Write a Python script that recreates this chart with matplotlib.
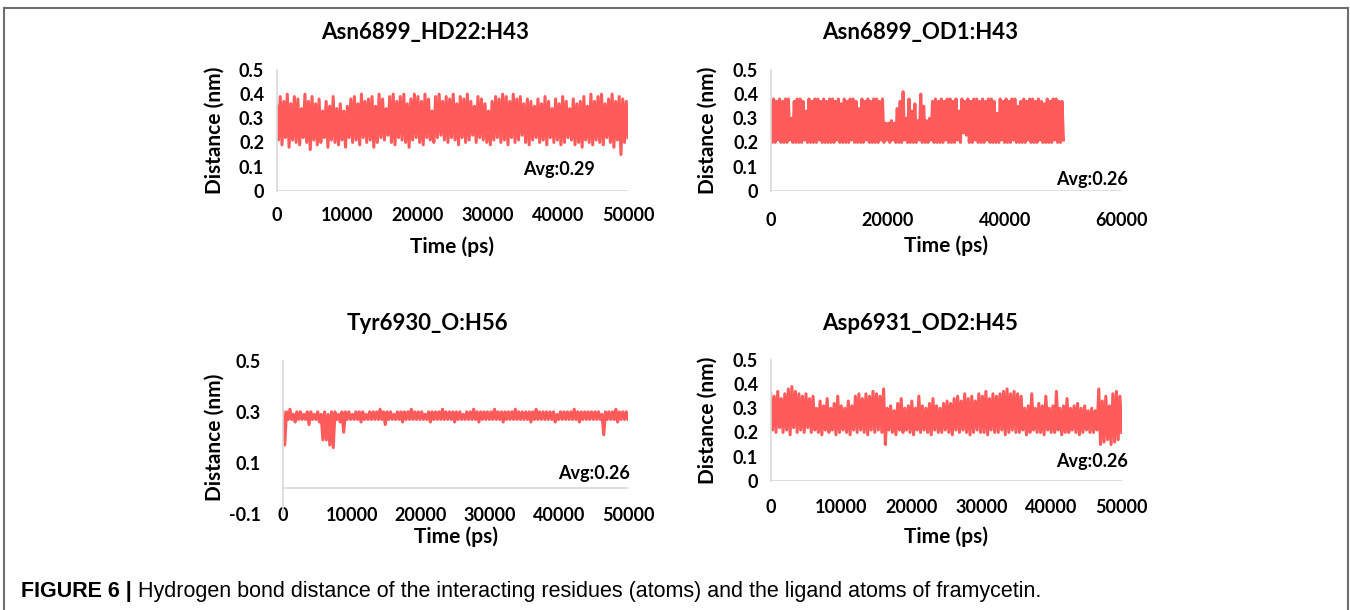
import numpy as np
import matplotlib
matplotlib.use('Agg')
import matplotlib.pyplot as plt
from matplotlib.lines import Line2D

W, H = 1350, 610
RED = '#FF5B5B'
GRID = '#D9D9D9'
FONT = 'Lato'

titles = ['Asn6899_HD22:H43', 'Asn6899_OD1:H43', 'Tyr6930_O:H56', 'Asp6931_OD2:H45']
avgs = ['Avg:0.29', 'Avg:0.26', 'Avg:0.26', 'Avg:0.26']

# upper / lower excursions of each trace, read every ~500 ps
hi1 = [0.35, 0.39, 0.37, 0.40, 0.36, 0.39, 0.38, 0.34, 0.40, 0.37,
       0.39, 0.36, 0.38, 0.33, 0.37, 0.35, 0.39, 0.34, 0.36, 0.33,
       0.35, 0.38, 0.39, 0.36, 0.40, 0.37, 0.38, 0.39, 0.35, 0.40,
       0.38, 0.34, 0.39, 0.40, 0.37, 0.39, 0.40, 0.36, 0.38, 0.40,
       0.39, 0.37, 0.40, 0.38, 0.33, 0.39, 0.40, 0.37, 0.39, 0.38,
       0.40, 0.36, 0.39, 0.38, 0.40, 0.37, 0.35, 0.39, 0.38, 0.36,
       0.33, 0.37, 0.39, 0.38, 0.40, 0.39, 0.37, 0.40, 0.38, 0.39,
       0.36, 0.38, 0.37, 0.35, 0.38, 0.36, 0.39, 0.37, 0.34, 0.38,
       0.36, 0.39, 0.37, 0.34, 0.38, 0.36, 0.37, 0.39, 0.35, 0.40,
       0.37, 0.39, 0.40, 0.36, 0.38, 0.40, 0.37, 0.39, 0.38, 0.37]
lo1 = [0.21, 0.19, 0.22, 0.18, 0.21, 0.20, 0.19, 0.22, 0.20, 0.17,
       0.21, 0.19, 0.20, 0.22, 0.18, 0.21, 0.20, 0.19, 0.21, 0.18,
       0.22, 0.20, 0.21, 0.19, 0.22, 0.20, 0.21, 0.18, 0.20, 0.22,
       0.21, 0.23, 0.20, 0.19, 0.22, 0.21, 0.20, 0.18, 0.21, 0.22,
       0.20, 0.19, 0.22, 0.21, 0.20, 0.22, 0.23, 0.21, 0.20, 0.22,
       0.21, 0.19, 0.22, 0.20, 0.21, 0.23, 0.20, 0.22, 0.21, 0.20,
       0.19, 0.21, 0.22, 0.20, 0.21, 0.19, 0.22, 0.20, 0.21, 0.23,
       0.20, 0.19, 0.21, 0.22, 0.20, 0.21, 0.19, 0.22, 0.20, 0.21,
       0.19, 0.20, 0.22, 0.21, 0.19, 0.20, 0.18, 0.21, 0.20, 0.19,
       0.21, 0.20, 0.19, 0.22, 0.20, 0.18, 0.21, 0.15, 0.20, 0.22]

hi2 = [0.37, 0.38, 0.37, 0.38, 0.37, 0.38, 0.38, 0.30, 0.37, 0.38,
       0.38, 0.37, 0.33, 0.38, 0.37, 0.38, 0.38, 0.37, 0.38, 0.37,
       0.38, 0.38, 0.37, 0.38, 0.36, 0.38, 0.37, 0.38, 0.38, 0.37,
       0.34, 0.38, 0.37, 0.38, 0.37, 0.38, 0.38, 0.37, 0.38, 0.28,
       0.28, 0.29, 0.28, 0.34, 0.37, 0.41, 0.30, 0.38, 0.33, 0.36,
       0.29, 0.40, 0.35, 0.29, 0.30, 0.37, 0.38, 0.37, 0.38, 0.37,
       0.38, 0.38, 0.37, 0.38, 0.33, 0.38, 0.37, 0.38, 0.37, 0.38,
       0.38, 0.37, 0.38, 0.37, 0.38, 0.38, 0.37, 0.32, 0.38, 0.37,
       0.38, 0.37, 0.38, 0.38, 0.35, 0.37, 0.38, 0.37, 0.38, 0.38,
       0.37, 0.38, 0.37, 0.36, 0.38, 0.37, 0.38, 0.38, 0.37, 0.37]
lo2 = [0.20, 0.20, 0.21, 0.20, 0.20, 0.20, 0.21, 0.20, 0.20, 0.20,
       0.20, 0.21, 0.20, 0.20, 0.20, 0.20, 0.21, 0.20, 0.20, 0.20,
       0.20, 0.20, 0.21, 0.20, 0.20, 0.20, 0.20, 0.21, 0.20, 0.20,
       0.20, 0.20, 0.21, 0.20, 0.20, 0.20, 0.20, 0.21, 0.20, 0.21,
       0.20, 0.21, 0.20, 0.20, 0.20, 0.21, 0.20, 0.20, 0.20, 0.20,
       0.21, 0.20, 0.20, 0.20, 0.21, 0.20, 0.20, 0.20, 0.20, 0.21,
       0.20, 0.20, 0.20, 0.21, 0.20, 0.24, 0.23, 0.20, 0.20, 0.21,
       0.20, 0.20, 0.20, 0.21, 0.20, 0.20, 0.20, 0.20, 0.21, 0.20,
       0.20, 0.20, 0.21, 0.20, 0.20, 0.20, 0.20, 0.21, 0.20, 0.20,
       0.20, 0.21, 0.20, 0.20, 0.20, 0.20, 0.21, 0.20, 0.20, 0.21]

hi3 = [0.30, 0.30, 0.31, 0.29, 0.30, 0.30, 0.29, 0.30, 0.30, 0.29,
       0.30, 0.29, 0.30, 0.29, 0.30, 0.30, 0.29, 0.30, 0.30, 0.30,
       0.29, 0.30, 0.30, 0.30, 0.29, 0.30, 0.30, 0.30, 0.31, 0.30,
       0.30, 0.30, 0.29, 0.30, 0.30, 0.30, 0.30, 0.31, 0.30, 0.30,
       0.30, 0.29, 0.30, 0.30, 0.30, 0.30, 0.31, 0.30, 0.30, 0.30,
       0.30, 0.30, 0.29, 0.30, 0.30, 0.31, 0.30, 0.30, 0.30, 0.30,
       0.30, 0.31, 0.30, 0.30, 0.30, 0.30, 0.30, 0.31, 0.30, 0.30,
       0.30, 0.30, 0.30, 0.31, 0.30, 0.30, 0.30, 0.30, 0.30, 0.29,
       0.30, 0.30, 0.30, 0.30, 0.31, 0.30, 0.30, 0.30, 0.30, 0.30,
       0.30, 0.30, 0.29, 0.30, 0.30, 0.30, 0.31, 0.30, 0.30, 0.30]
lo3 = [0.17, 0.27, 0.27, 0.26, 0.27, 0.27, 0.27, 0.25, 0.27, 0.27,
       0.26, 0.19, 0.19, 0.17, 0.16, 0.27, 0.26, 0.22, 0.27, 0.27,
       0.27, 0.27, 0.26, 0.27, 0.27, 0.27, 0.27, 0.27, 0.27, 0.25,
       0.27, 0.27, 0.27, 0.27, 0.26, 0.27, 0.27, 0.27, 0.27, 0.27,
       0.27, 0.27, 0.26, 0.27, 0.27, 0.27, 0.27, 0.27, 0.27, 0.26,
       0.27, 0.27, 0.27, 0.27, 0.27, 0.27, 0.26, 0.27, 0.27, 0.27,
       0.27, 0.27, 0.27, 0.26, 0.27, 0.27, 0.27, 0.27, 0.27, 0.27,
       0.27, 0.26, 0.27, 0.27, 0.27, 0.27, 0.27, 0.27, 0.26, 0.27,
       0.27, 0.27, 0.27, 0.27, 0.27, 0.26, 0.27, 0.27, 0.27, 0.27,
       0.27, 0.27, 0.21, 0.27, 0.27, 0.27, 0.26, 0.27, 0.27, 0.27]

hi4 = [0.36, 0.35, 0.37, 0.34, 0.36, 0.38, 0.39, 0.37, 0.36, 0.35,
       0.36, 0.34, 0.35, 0.30, 0.33, 0.31, 0.34, 0.30, 0.32, 0.35,
       0.31, 0.30, 0.33, 0.31, 0.35, 0.36, 0.34, 0.36, 0.35, 0.37,
       0.36, 0.35, 0.38, 0.30, 0.31, 0.29, 0.32, 0.34, 0.30, 0.31,
       0.33, 0.30, 0.35, 0.31, 0.30, 0.32, 0.34, 0.31, 0.30, 0.32,
       0.33, 0.32, 0.34, 0.35, 0.33, 0.36, 0.34, 0.35, 0.33, 0.36,
       0.35, 0.37, 0.34, 0.36, 0.35, 0.36, 0.37, 0.38, 0.36, 0.37,
       0.36, 0.35, 0.30, 0.31, 0.36, 0.30, 0.32, 0.31, 0.35, 0.30,
       0.31, 0.37, 0.30, 0.31, 0.34, 0.30, 0.31, 0.32, 0.30, 0.31,
       0.29, 0.30, 0.29, 0.38, 0.33, 0.35, 0.31, 0.36, 0.37, 0.35]
lo4 = [0.21, 0.20, 0.22, 0.20, 0.21, 0.19, 0.22, 0.20, 0.21, 0.20,
       0.22, 0.20, 0.21, 0.20, 0.19, 0.21, 0.20, 0.21, 0.19, 0.20,
       0.21, 0.20, 0.19, 0.21, 0.20, 0.21, 0.20, 0.19, 0.21, 0.20,
       0.21, 0.20, 0.15, 0.21, 0.20, 0.19, 0.21, 0.20, 0.21, 0.20,
       0.19, 0.21, 0.20, 0.21, 0.20, 0.19, 0.21, 0.20, 0.20, 0.21,
       0.20, 0.19, 0.21, 0.20, 0.21, 0.20, 0.19, 0.20, 0.21, 0.20,
       0.20, 0.19, 0.21, 0.20, 0.20, 0.21, 0.19, 0.20, 0.21, 0.20,
       0.20, 0.21, 0.19, 0.20, 0.21, 0.20, 0.20, 0.19, 0.21, 0.20,
       0.20, 0.21, 0.19, 0.20, 0.20, 0.21, 0.20, 0.19, 0.20, 0.21,
       0.20, 0.20, 0.21, 0.15, 0.16, 0.17, 0.15, 0.16, 0.17, 0.20]

time_end = 50000
xticks_a = [0, 10000, 20000, 30000, 40000, 50000]
xticks_b = [0, 20000, 40000, 60000]
yticks_a = [0, 0.1, 0.2, 0.3, 0.4, 0.5]
yticks_c = [-0.1, 0.1, 0.3, 0.5]


def trace(hi, lo):
    y = np.empty(2 * len(hi))
    y[0::2] = hi
    y[1::2] = lo
    t = np.linspace(0, time_end, len(y))
    return t, y


def px(x, y):
    return x / W, 1 - y / H


fig = plt.figure(figsize=(W / 100, H / 100), dpi=100)

# panel boxes in pixels: left, right, top, bottom
panels = [
    dict(box=(276.7, 628, 70, 190.7), hi=hi1, lo=lo1, xt=xticks_a, xmax=50000,
         yt=yticks_a, ylim=(0, 0.5), title=(425, 33), avg=(559, 170), xl=247, yl=215,
         xpad=12, ypad=9),
    dict(box=(770.7, 1122, 70, 190.7), hi=hi2, lo=lo2, xt=xticks_b, xmax=60000,
         yt=yticks_a, ylim=(0, 0.5), title=(920, 33), avg=(1092, 179), xl=246, yl=708,
         xpad=15, ypad=9),
    dict(box=(283, 628, 360.7, 514), hi=hi3, lo=lo3, xt=xticks_a, xmax=50000,
         yt=yticks_c, ylim=(-0.1, 0.5), title=(427, 323), avg=(594, 473), xl=537, yl=215,
         xpad=-5, ypad=16),
    dict(box=(770.7, 1121.7, 360, 480.7), hi=hi4, lo=lo4, xt=xticks_a, xmax=50000,
         yt=yticks_a, ylim=(0, 0.5), title=(920, 323), avg=(1092, 462), xl=537, yl=708,
         xpad=13, ypad=9),
]

for i, p in enumerate(panels):
    l, r, top, bot = p['box']
    ax = fig.add_axes([l / W, 1 - bot / H, (r - l) / W, (bot - top) / H])
    t, y = trace(p['hi'], p['lo'])
    ax.plot(t, y, color=RED, lw=2.2)
    ax.set_xlim(0, p['xmax'])
    ax.set_ylim(*p['ylim'])
    ax.set_xticks(p['xt'])
    ax.set_yticks(p['yt'])
    ax.set_yticklabels([('%g' % v) for v in p['yt']])
    for s in ['top', 'right', 'bottom']:
        ax.spines[s].set_visible(False)
    ax.spines['left'].set_color(GRID)
    ax.spines['left'].set_linewidth(1.2)
    ax.axhline(0, color=GRID, lw=1.2, zorder=0)
    ax.tick_params(length=0, labelsize=13)
    ax.tick_params(axis='x', pad=p['xpad'])
    ax.tick_params(axis='y', pad=p['ypad'])
    for lab in ax.get_xticklabels() + ax.get_yticklabels():
        lab.set_fontfamily(FONT)
        lab.set_fontweight('bold')
    ax.patch.set_visible(False)

    yc = (top + bot) / 2
    fig.text(*px(p['yl'], yc), 'Distance (nm)', rotation=90, ha='center', va='center',
             fontsize=15, fontweight='bold', family=FONT)
    fig.text(*px((l + r) / 2, p['xl']), 'Time (ps)', ha='center', va='center',
             fontsize=15, fontweight='bold', family=FONT)
    fig.text(*px(*p['title']), titles[i], ha='center', va='center',
             fontsize=16, fontweight='bold', family=FONT)
    fig.text(*px(*p['avg']), avgs[i], ha='center', va='center',
             fontsize=13, fontweight='bold', family=FONT)

# outer frame of the figure panel
fc = '#6E6E6E'
fig.add_artist(Line2D([4 / W, 4 / W], [0, 1 - 8 / H], color=fc, lw=1.5))
fig.add_artist(Line2D([4 / W, 1348 / W], [1 - 8 / H, 1 - 8 / H], color=fc, lw=1.5))
fig.add_artist(Line2D([1348 / W, 1348 / W], [0, 1 - 8 / H], color=fc, lw=1.5))

cap_b = fig.text(*px(21, 592), 'FIGURE 6 |', ha='left', va='center', fontsize=15.5,
                 fontweight='bold', family='Liberation Sans')
fig.canvas.draw()
bb = cap_b.get_window_extent()
fig.text((bb.x1 + 6) / W, 1 - 592 / H,
         'Hydrogen bond distance of the interacting residues (atoms) and the ligand atoms of framycetin.',
         ha='left', va='center', fontsize=15.5, family='Liberation Sans')

fig.savefig('out.png', dpi=100)
